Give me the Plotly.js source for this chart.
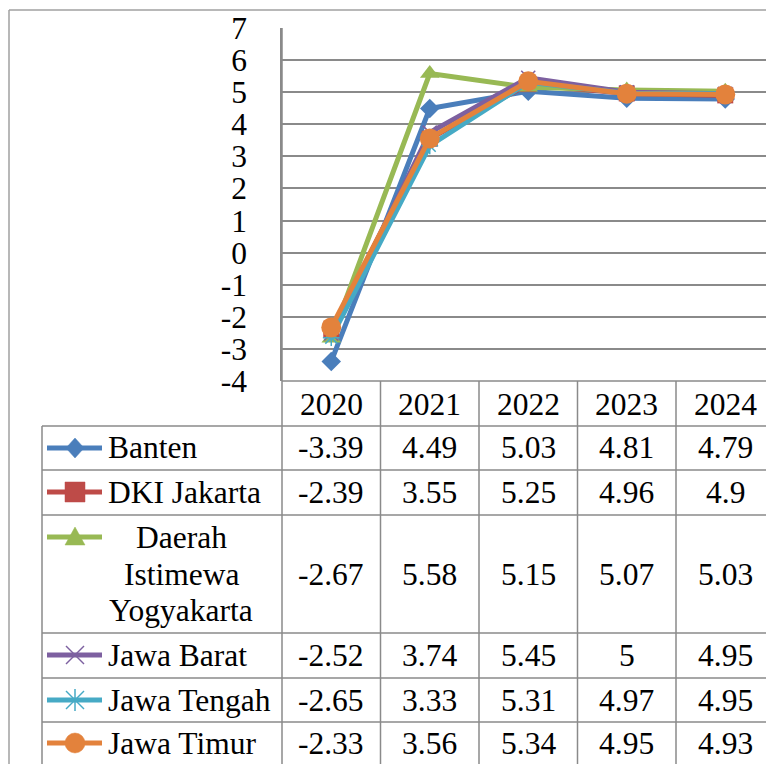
<!DOCTYPE html>
<html>
<head>
<meta charset="utf-8">
<script src="https://cdn.plot.ly/plotly-3.0.1.min.js"></script>
<style>html,body{margin:0;padding:0;background:#fff;}#chart{width:766px;height:764px;}</style>
</head>
<body>
<div id="chart"></div>
<script>
// ---- data ----
const years = ["2020", "2021", "2022", "2023", "2024"];
const seriesNames = ["Banten", "DKI Jakarta", "Daerah Istimewa Yogyakarta", "Jawa Barat", "Jawa Tengah", "Jawa Timur"];
const banten     = [-3.39, 4.49, 5.03, 4.81, 4.79];
const dkiJakarta = [-2.39, 3.55, 5.25, 4.96, 4.9];
const diy        = [-2.67, 5.58, 5.15, 5.07, 5.03];
const jawaBarat  = [-2.52, 3.74, 5.45, 5, 4.95];
const jawaTengah = [-2.65, 3.33, 5.31, 4.97, 4.95];
const jawaTimur  = [-2.33, 3.56, 5.34, 4.95, 4.93];
const seriesValues = [banten, dkiJakarta, diy, jawaBarat, jawaTengah, jawaTimur];
const yTicks = [-4, -3, -2, -1, 0, 1, 2, 3, 4, 5, 6, 7];

// ---- styles ----
const colors  = ["#4A7EBB", "#BE4B48", "#98B954", "#7D60A0", "#46AAC5", "#E3823C"];
const symbols = ["diamond", "square", "triangle-up", "x-thin-open", "asterisk-open", "circle"];
const msizes  = [15, 16, 17, 14, 14, 20];
const FONT = "Liberation Serif";
const FS = 31.5;
const GRID = "#8a8a8a";

// ---- layout geometry (pixels) ----
const W = 766, H = 764;
const PL = 282, PT = 28, PB = 381;      // plot area
const COLW = 98.5;                        // width of one category column
const xr = -0.5 + (W - PL) / COLW;        // right end of x range
const X = px => (px - PL) / (W - PL);
const Y = py => (PB - py) / (PB - PT);
const colCenterPx = k => PL + (k + 0.5) * COLW;

const rowEdges = [381, 426, 470, 515, 633, 678, 722, 766];
const tableLeft = 42;

const traces = seriesNames.map((n, i) => ({
  type: "scatter", mode: "lines+markers", name: n,
  x: years, y: seriesValues[i],
  line: {color: colors[i], width: 5},
  marker: {symbol: symbols[i], size: msizes[i], color: colors[i],
           line: {color: colors[i], width: (symbols[i].endsWith("open") ? 1.5 : 0)}},
  showlegend: false, cliponaxis: false
}));

const shapes = [];
const line = (x0, y0, x1, y1, color, width) => shapes.push({
  type: "line", xref: "paper", yref: "paper",
  x0: X(x0), y0: Y(y0), x1: X(x1), y1: Y(y1),
  line: {color: color, width: width}, layer: "above"
});
// outer chart frame
line(9, 10, 9, H, "#a0a0a0", 1.5);
line(9, 10, W, 10, "#a0a0a0", 1.5);
// table horizontals
line(PL, 381, W, 381, GRID, 1.5);
for (let r = 1; r < rowEdges.length - 1; r++) line(tableLeft, rowEdges[r], W, rowEdges[r], GRID, 1.5);
// table verticals
line(tableLeft, 426, tableLeft, H, GRID, 1.5);
line(PL, PT, PL, H, GRID, 1.5);
for (let k = 0; k < years.length; k++) {
  const xe = PL + (k + 1) * COLW;
  if (xe < W) line(xe, 381, xe, H, GRID, 1.5);
}

// legend keys in the table
const keyY = [448, 492, 537, 655, 700, 743];
const pathShape = (pts, color, fill, w) => {
  const d = pts.map((p, j) => (j ? "L" : "M") + X(p[0]) + "," + Y(p[1])).join(" ") + (fill ? " Z" : "");
  shapes.push({type: "path", xref: "paper", yref: "paper", path: d,
    fillcolor: fill ? color : "rgba(0,0,0,0)", line: {color: color, width: w}, layer: "above"});
};
seriesNames.forEach((n, i) => {
  const cy = keyY[i], cx = 75, c = colors[i];
  line(47, cy, 102, cy, c, 5);
  if (symbols[i] === "diamond") pathShape([[cx, cy - 10], [cx + 9, cy], [cx, cy + 10], [cx - 9, cy]], c, true, 0.5);
  else if (symbols[i] === "square") pathShape([[cx - 10, cy - 10], [cx + 10, cy - 10], [cx + 10, cy + 10], [cx - 10, cy + 10]], c, true, 0.5);
  else if (symbols[i] === "triangle-up") pathShape([[cx, cy - 10], [cx + 10, cy + 8], [cx - 10, cy + 8]], c, true, 0.5);
  else if (symbols[i] === "x-thin-open") {
    line(cx - 9, cy - 9, cx + 9, cy + 9, c, 1.5); line(cx - 9, cy + 9, cx + 9, cy - 9, c, 1.5);
  } else if (symbols[i] === "asterisk-open") {
    line(cx - 9, cy - 9, cx + 9, cy + 9, c, 1.5); line(cx - 9, cy + 9, cx + 9, cy - 9, c, 1.5);
    line(cx, cy - 11, cx, cy + 11, c, 1.5);
  } else if (symbols[i] === "circle") {
    shapes.push({type: "circle", xref: "paper", yref: "paper",
      x0: X(cx - 10), x1: X(cx + 10), y0: Y(cy - 10), y1: Y(cy + 10),
      fillcolor: c, line: {color: c, width: 0.5}, layer: "above"});
  }
});

// table text
const annotations = [];
const txt = (t, px, py, anchor) => annotations.push({
  text: t, xref: "paper", yref: "paper", x: X(px), y: Y(py),
  xanchor: anchor || "center", yanchor: "middle", align: anchor || "center",
  showarrow: false, font: {family: FONT, size: FS, color: "#000"}
});
years.forEach((yr, k) => txt(yr, colCenterPx(k), 404));
seriesNames.forEach((n, i) => {
  const cy = (rowEdges[i + 1] + rowEdges[i + 2]) / 2;
  if (n.length > 14) {
    const words = n.split(" ");
    words.forEach((w, j) => txt(w, 181, cy + (j - (words.length - 1) / 2) * 36.5));
  } else txt(n, 106, cy, "left");
  seriesValues[i].forEach((v, k) => txt(String(v), colCenterPx(k), cy));
});

const layout = {
  width: W, height: H,
  margin: {l: PL, r: 0, t: PT, b: H - PB, pad: 0},
  paper_bgcolor: "#fff", plot_bgcolor: "#fff",
  showlegend: false,
  font: {family: FONT, color: "#000"},
  xaxis: {type: "category", range: [-0.5, xr], showticklabels: false, showgrid: false,
          zeroline: false, showline: false, ticks: "", fixedrange: true},
  yaxis: {range: [-4, 7], tickmode: "array", tickvals: yTicks, ticktext: yTicks.map(String),
          showgrid: true, gridcolor: GRID, gridwidth: 1.5,
          zeroline: false, showline: true, linecolor: GRID, linewidth: 1.5, ticks: "",
          ticklabelstandoff: 27,
          tickfont: {family: FONT, size: FS, color: "#000"}, fixedrange: true},
  shapes: shapes, annotations: annotations
};
Plotly.newPlot("chart", traces, layout, {displayModeBar: false});
</script>
</body>
</html>
